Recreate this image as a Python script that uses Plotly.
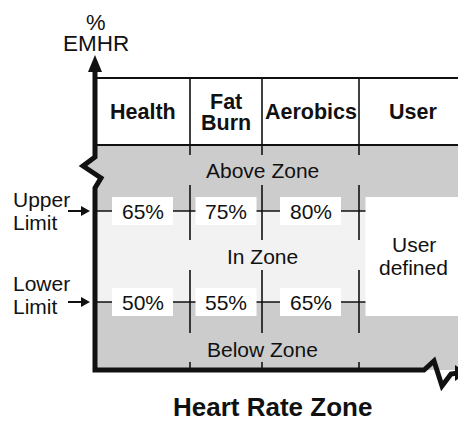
import plotly.graph_objects as go

# ---------------- data ----------------
zones = ["Health", "Fat Burn", "Aerobics", "User"]
zone_header_lines = [["Health"], ["Fat", "Burn"], ["Aerobics"], ["User"]]
upper_pct = [65, 75, 80]          # upper limit, % EMHR (first three zones)
lower_pct = [50, 55, 65]          # lower limit, % EMHR
user_zone_text = ["User", "defined"]
band_labels = ["Above Zone", "In Zone", "Below Zone"]
limit_labels = [["Upper", "Limit"], ["Lower", "Limit"]]
y_title_lines = ["%", "EMHR"]
x_title = "Heart Rate Zone"

# ---------------- geometry (page pixel canvas) ----------------
W, H = 466, 425
OFF = 8            # default page body margin; data coords == page pixels
AX = 95            # vertical axis x
BASE = 370         # horizontal axis y
col_edges = [95, 190, 262, 359, 466]
HEAD_TOP, HEAD_BOT = 78, 145
Y_UP, Y_LO = 211, 302
band_y = [170, 256, 349]
band_gaps = [(155, 185), (240, 270), (333, 362)]
BOX_W, BOX_H = 61, 28
LINE = "#111111"
GRAY = "#cccccc"
LIGHT = "#f2f2f2"
FONT = "Liberation Sans, Arial, sans-serif"
FS = 21

col_centers = [(a + b) / 2 for a, b in zip(col_edges[:-1], col_edges[1:])]

shapes = []
annotations = []

def line(x0, y0, x1, y1, w=1.6, color=LINE):
    shapes.append(dict(type="line", x0=x0, y0=y0, x1=x1, y1=y1,
                       line=dict(color=color, width=w)))

def rect(x0, y0, x1, y1, fill):
    shapes.append(dict(type="rect", x0=x0, y0=y0, x1=x1, y1=y1,
                       fillcolor=fill, line=dict(width=0)))

def path(d, fill=None, w=0, color=LINE):
    s = dict(type="path", path=d, line=dict(width=w, color=color))
    if fill:
        s["fillcolor"] = fill
    shapes.append(s)

def text(x, y, t, size=FS, bold=False, anchor="center", color="#111111"):
    annotations.append(dict(x=x, y=y, xref="x", yref="y", text=f"<b>{t}</b>" if bold else t,
                            showarrow=False, xanchor=anchor, yanchor="middle",
                            font=dict(family=FONT, size=size, color=color)))

# gray zone area (with break on the left)
path(f"M {AX+2},{HEAD_BOT} L {W+2},{HEAD_BOT} L {W+2},{BASE} L {AX},{BASE} L {AX},188 "
     f"L 101,178 L 83,166 L {AX},157 L {AX},{HEAD_BOT} Z", fill=GRAY)
# in-zone light band
rect(AX, Y_UP, W + 2, Y_LO, LIGHT)
# limit lines
line(AX, Y_UP, W + 2, Y_UP)
line(AX, Y_LO, W + 2, Y_LO)
# vertical dividers in zone area (interrupted by band labels)
for xe in col_edges[1:-1]:
    segs = [HEAD_BOT]
    for g0, g1 in band_gaps:
        segs += [g0, g1]
    segs.append(BASE)
    for i in range(0, len(segs), 2):
        line(xe, segs[i], xe, segs[i + 1])
# header
line(AX, HEAD_TOP, W + 2, HEAD_TOP, w=2.2)
line(AX, HEAD_BOT, W + 2, HEAD_BOT, w=2.2)
for xe in col_edges[1:-1]:
    line(xe, HEAD_TOP, xe, HEAD_BOT)

# percent boxes
for i, (u, l) in enumerate(zip(upper_pct, lower_pct)):
    cx = col_centers[i]
    rect(cx - BOX_W / 2, Y_UP - BOX_H / 2, cx + BOX_W / 2, Y_UP + BOX_H / 2, "white")
    rect(cx - BOX_W / 2, Y_LO - BOX_H / 2, cx + BOX_W / 2, Y_LO + BOX_H / 2, "white")
    text(cx, Y_UP, f"{u}%")
    text(cx, Y_LO, f"{l}%")
# user-defined box
ucx = col_centers[3] + 1
rect(ucx - 48, Y_UP - BOX_H / 2, ucx + 48, Y_LO + BOX_H / 2, "white")
mid = (Y_UP + Y_LO) / 2
for k, t in enumerate(user_zone_text):
    text(ucx, mid - 12 + 23 * k, t)

# header labels
for cx, lines in zip(col_centers, zone_header_lines):
    n = len(lines)
    for k, t in enumerate(lines):
        text(cx, 112 + (k - (n - 1) / 2) * 21, t, size=21.5, bold=True)

# band labels
for y, t in zip(band_y, band_labels):
    text(col_edges[2], y, t)

# axes (thick, with breaks)
path(f"M {AX},66 L {AX},157 L 83,166 L 101,178 L {AX},188 L {AX},{BASE} "
     f"L 424,{BASE} L 434,361 L 442,386 L 451,374 L 458,373", w=5)
path(f"M {AX},55 L {AX-7},72 L {AX+7},72 Z", fill=LINE)
path(f"M {W+1},373 L 455,365 L 455,381 Z", fill=LINE)

# limit labels + small arrows
for (l1, l2), ya, yc in zip(limit_labels, [Y_UP, Y_LO], [210, 294]):
    text(11, yc - 11, l1, anchor="left")
    text(11, yc + 12, l2, anchor="left")
    line(68, ya, 82, ya, w=2)
    path(f"M 90,{ya} L 81,{ya-5} L 81,{ya+5} Z", fill=LINE)

# axis titles
text(AX + 1, 22, y_title_lines[0], size=22)
text(AX + 1, 43, y_title_lines[1], size=22.5)
text(272, 407, x_title, size=26, bold=True)

fig = go.Figure()
fig.update_layout(
    width=W - OFF, height=H - OFF,
    margin=dict(l=0, r=0, t=0, b=0),
    paper_bgcolor="white", plot_bgcolor="white",
    xaxis=dict(range=[OFF, W], visible=False, fixedrange=True),
    yaxis=dict(range=[H, OFF], visible=False, fixedrange=True),
    shapes=shapes, annotations=annotations,
    showlegend=False,
)
fig.write_html("out.html")
